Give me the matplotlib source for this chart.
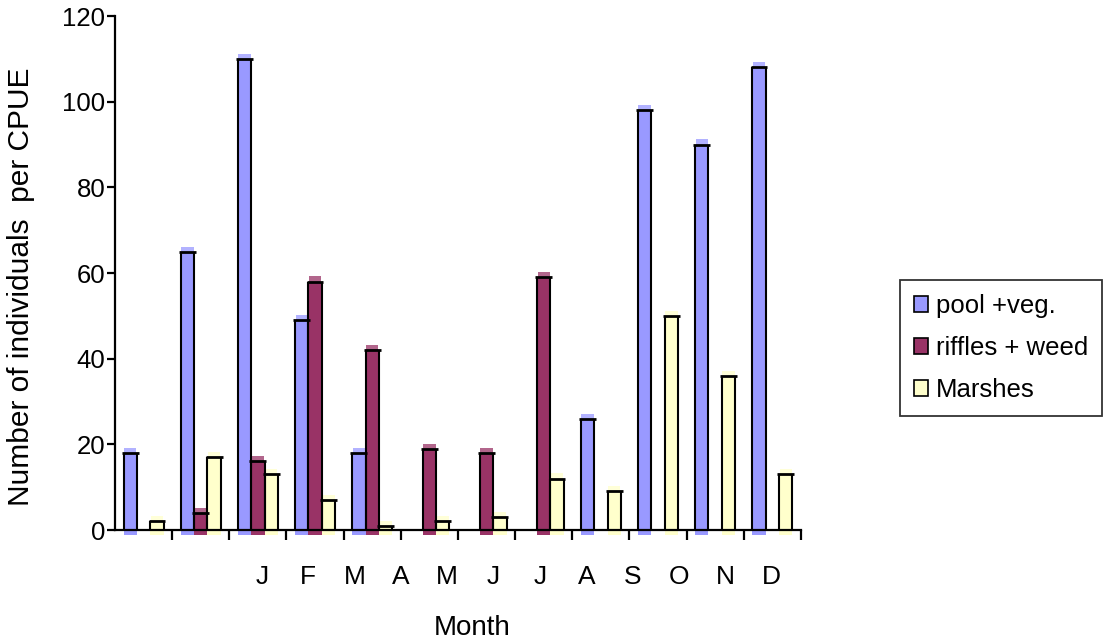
import numpy as np
import matplotlib
matplotlib.use("Agg")
import matplotlib.pyplot as plt
from matplotlib.patches import Patch

# ====== data ======
groups = np.arange(12)
month_labels = ["J", "F", "M", "A", "M", "J", "J", "A", "S", "O", "N", "D"]
pool_veg = [18, 65, 110, 49, 18, 0, 0, 0, 26, 98, 90, 108]
riffles_weed = [0, 4, 16, 58, 42, 19, 18, 59, 0, 0, 0, 0]
marshes = [2, 17, 13, 7, 1, 2, 3, 12, 9, 50, 36, 13]
series_names = ["pool +veg.", "riffles + weed", "Marshes"]
series_colors = ["#9999FF", "#993366", "#FFFFCC"]
# ==================

BAR_W = 0.234
CAP_EXT = 0.03      # black cap sticks out past the bar edges
TOP_GLOW = 1.2      # lighter band above each bar top
UNDER = 1.1         # fill runs a little below the axis

plt.rcParams["font.family"] = ["Liberation Sans", "DejaVu Sans"]

fig = plt.figure(figsize=(11.08, 6.44), dpi=100)
ax = fig.add_axes([0.1038, 0.177, 0.619, 0.798])

all_series = [pool_veg, riffles_weed, marshes]
for k, (vals, col) in enumerate(zip(all_series, series_colors)):
    vals = np.asarray(vals, dtype=float)
    x = groups + (k - 1) * BAR_W
    m = vals > 0
    xs, vs = x[m], vals[m]
    # coloured body, extended slightly below zero
    ax.bar(xs, vs + UNDER, bottom=-UNDER, width=BAR_W, color=col,
           edgecolor="none", zorder=2, clip_on=False)
    # paler band above the top edge
    ax.bar(xs, np.full_like(vs, TOP_GLOW), bottom=vs, width=BAR_W * 0.92,
           color=col, alpha=0.75, edgecolor="none", zorder=2)
    # black outline of the sides
    ax.vlines(xs - BAR_W / 2, 0, vs, color="black", lw=1.5, zorder=3)
    ax.vlines(xs + BAR_W / 2, 0, vs, color="black", lw=1.5, zorder=3)
    # cap at the bar top
    ax.hlines(vs, xs - BAR_W / 2 - CAP_EXT, xs + BAR_W / 2 + CAP_EXT,
              color="black", lw=2.0, zorder=4)

ax.set_xlim(-0.5, 11.5)
ax.set_ylim(0, 120)
ax.set_yticks(np.arange(0, 121, 20))

for side in ("top", "right"):
    ax.spines[side].set_visible(False)
for side in ("left", "bottom"):
    ax.spines[side].set_linewidth(1.6)
    ax.spines[side].set_zorder(5)

# group boundaries as major ticks, month letters on minor ticks
ax.set_xticks(np.arange(0.5, 11.6, 1.0))
ax.set_xticklabels([])
ax.set_xticks(np.linspace(2.07, 10.99, len(month_labels)), minor=True)
ax.set_xticklabels(month_labels, minor=True, fontsize=19)
ax.tick_params(axis="x", which="major", direction="out", length=7, width=1.6)
ax.tick_params(axis="x", which="minor", length=0, pad=25)
ax.tick_params(axis="y", direction="out", length=6, width=1.6, pad=1, labelsize=18.5)

ax.set_ylabel("Number of individuals  per CPUE", fontsize=21.5, va="center")
ax.yaxis.set_label_coords(-0.137, 0.473)
ax.set_xlabel("Month", fontsize=20, va="center")
ax.xaxis.set_label_coords(0.52, -0.19)

handles = [Patch(facecolor=c, edgecolor="black", linewidth=1.2) for c in series_colors]
leg = fig.legend(handles, series_names, loc="upper left",
                 bbox_to_anchor=(0.812, 0.565), fontsize=18.5,
                 handlelength=0.55, handleheight=0.55, handletextpad=0.3,
                 labelspacing=0.7, borderpad=0.55, borderaxespad=0,
                 fancybox=False, frameon=True)
leg.get_frame().set_edgecolor("black")
leg.get_frame().set_linewidth(1.3)

fig.savefig("out.png", dpi=100, facecolor="white")
